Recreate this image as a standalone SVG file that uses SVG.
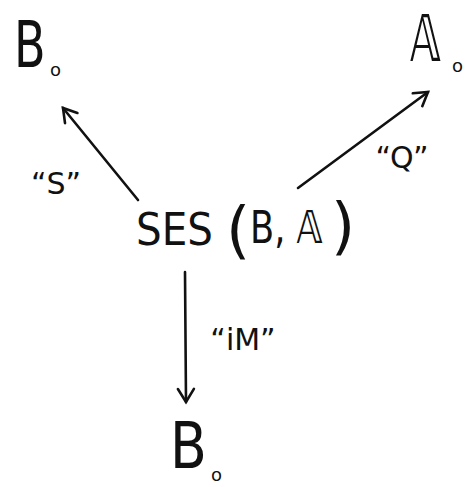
<svg xmlns="http://www.w3.org/2000/svg" width="476" height="487" viewBox="0 0 476 487">
<defs>
<style>
text{font-family:"DejaVu Sans","Liberation Sans",sans-serif;fill:#111;}
.node{font-size:64px;}
.sub{font-size:18px;}
.lbl{font-size:30px;}
.ses{font-size:44px;}
.par{font-size:62px;}
.edge{stroke:#111;stroke-width:2.6;fill:none;stroke-linecap:round;}
</style>
<marker id="ah" viewBox="0 0 20 20" refX="16" refY="10" markerWidth="20" markerHeight="20" markerUnits="userSpaceOnUse" orient="auto">
<path d="M3,2 L16,10 L3,18" fill="none" stroke="#111" stroke-width="2.6" stroke-linecap="round"/>
</marker>
</defs>
<rect width="476" height="487" fill="#fff"/>
<g id="edges">
<line class="edge" x1="138" y1="200" x2="63" y2="108" marker-end="url(#ah)"/>
<line class="edge" x1="298" y1="188" x2="428" y2="92" marker-end="url(#ah)"/>
<line class="edge" x1="185" y1="272" x2="186" y2="402" marker-end="url(#ah)"/>
<text class="lbl" x="56" y="194" text-anchor="middle">“S”</text>
<text class="lbl" x="402" y="168" text-anchor="middle">“Q”</text>
<text class="lbl" x="243" y="350" text-anchor="middle">“iM”</text>
</g>
<g id="node-B0-top">
<text class="node" transform="translate(14,67) scale(0.72,1)">B</text>
<text class="sub" x="50" y="76">o</text>
</g>
<g id="node-A0">
<text class="node" transform="translate(410,61) scale(0.65,1)">𝔸</text>
<text class="sub" x="452" y="72">o</text>
</g>
<g id="node-SES">
<text class="ses" transform="translate(136,245) scale(0.92,1)">SES</text>
<text class="par" x="226" y="251">(</text>
<text class="ses" transform="translate(250,243) scale(0.8,1)">B, 𝔸</text>
<text class="par" x="331" y="247">)</text>
</g>
<g id="node-B0-bottom">
<text class="node" transform="translate(170,468) scale(0.84,1)">B</text>
<text class="sub" x="211" y="481">o</text>
</g>
</svg>
